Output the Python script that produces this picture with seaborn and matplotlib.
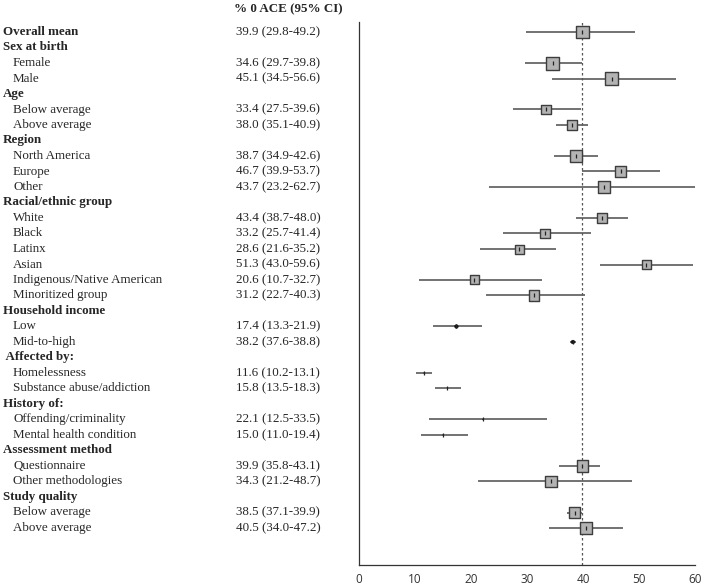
import matplotlib
matplotlib.use("Agg")
import matplotlib.pyplot as plt
import matplotlib.transforms as mtransforms
import seaborn as sns
import numpy as np
import pandas as pd

sns.set_style("white")
plt.rcParams['font.family'] = ['Liberation Serif', 'DejaVu Serif']

# ---- data ----
labels = ["Overall mean", "Sex at birth", "Female", "Male", "Age", "Below average",
          "Above average", "Region", "North America", "Europe", "Other",
          "Racial/ethnic group", "White", "Black", "Latinx", "Asian",
          "Indigenous/Native American", "Minoritized group", "Household income",
          "Low", "Mid-to-high", " Affected by:", "Homelessness",
          "Substance abuse/addiction", "History of:", "Offending/criminality",
          "Mental health condition", "Assessment method", "Questionnaire",
          "Other methodologies", "Study quality", "Below average", "Above average"]
is_header = [1, 1, 0, 0, 1, 0, 0, 1, 0, 0, 0, 1, 0, 0, 0, 0, 0, 0, 1, 0, 0, 1, 0, 0,
             1, 0, 0, 1, 0, 0, 1, 0, 0]
estimate = [39.9, None, 34.6, 45.1, None, 33.4, 38.0, None, 38.7, 46.7, 43.7,
            None, 43.4, 33.2, 28.6, 51.3, 20.6, 31.2, None, 17.4, 38.2, None,
            11.6, 15.8, None, 22.1, 15.0, None, 39.9, 34.3, None, 38.5, 40.5]
lower = [29.8, None, 29.7, 34.5, None, 27.5, 35.1, None, 34.9, 39.9, 23.2,
         None, 38.7, 25.7, 21.6, 43.0, 10.7, 22.7, None, 13.3, 37.6, None,
         10.2, 13.5, None, 12.5, 11.0, None, 35.8, 21.2, None, 37.1, 34.0]
upper = [49.2, None, 39.8, 56.6, None, 39.6, 40.9, None, 42.6, 53.7, 62.7,
         None, 48.0, 41.4, 35.2, 59.6, 32.7, 40.3, None, 21.9, 38.8, None,
         13.1, 18.3, None, 33.5, 19.4, None, 43.1, 48.7, None, 39.9, 47.2]
# relative study weight (box side)
weight = [12.3, None, 13, 12.3, None, 9.7, 9.7, None, 12, 11, 12,
          None, 9.7, 9.3, 9, 9, 9, 10.3, None, 3.5, 3.5, None,
          0.4, 0.4, None, 0.4, 0.4, None, 11.3, 11.7, None, 11.7, 11.7]
overall = 39.9
xticks = [0, 10, 20, 30, 40, 50, 60]
header_text = "% 0 ACE (95% CI)"

# ---- figure ----
W, H = 709, 586
fig = plt.figure(figsize=(W / 100, H / 100), dpi=100)
ax_l, ax_r, ax_t, ax_b = 359, 695, 22, 565
ax = fig.add_axes([ax_l / W, (H - ax_b) / H, (ax_r - ax_l) / W, (ax_b - ax_t) / H])

rows = np.arange(1, len(labels) + 1)
row_px0, spacing = 32, 15.5
ymin = 1 - (row_px0 - ax_t) / spacing
ymax = 1 + (ax_b - row_px0) / spacing
ax.set_ylim(ymax, ymin)
ax.set_xlim(0, 60)

df = pd.DataFrame({"row": rows, "label": labels, "est": estimate,
                   "lo": lower, "hi": upper, "w": weight})
d = df.dropna(subset=["est"]).copy()
d["s"] = (d["w"].astype(float) * 0.72) ** 2
big = d[d["w"] >= 5]
small = d[d["w"] < 5]

ax.axvline(overall, color="#555555", lw=0.9, ls=(0, (2, 2)), zorder=1)
ax.hlines(d["row"], d["lo"], d["hi"], color="#5a5a5a", lw=1.2, zorder=2)
sns.scatterplot(data=big, x="est", y="row", marker="s", s=big["s"].values,
                color="#b3b3b3", edgecolor="#3d3d3d", linewidth=1.0,
                ax=ax, zorder=3, legend=False)
sns.scatterplot(data=small, x="est", y="row", marker="o", s=small["s"].values,
                color="#111111", edgecolor="#111111", linewidth=0.5,
                ax=ax, zorder=3, legend=False)
ax.scatter(d["est"], d["row"], marker="|", s=12, color="#222222",
           linewidths=0.9, zorder=4)

sns.despine(ax=ax, top=True, right=True)
ax.spines["left"].set_color("#333333")
ax.spines["bottom"].set_color("#333333")
ax.spines["left"].set_linewidth(0.9)
ax.spines["bottom"].set_linewidth(0.9)
ax.set_yticks([])
ax.set_xticks(xticks)
ax.set_xticklabels([str(t) for t in xticks], fontfamily="Open Sans", fontsize=8.5,
                   color="#333333")
ax.tick_params(axis="x", direction="out", length=4, width=0.9, color="#333333", pad=2)
ax.set_xlabel("")
ax.set_ylabel("")

# ---- text columns ----
trans = mtransforms.blended_transform_factory(fig.transFigure, ax.transData)
fs = 9.4
for r, lab, hdr, e, lo, hi in zip(rows, labels, is_header, estimate, lower, upper):
    if hdr:
        ax.text(3 / W, r, lab, transform=trans, fontsize=fs, fontweight="bold",
                va="center", ha="left", clip_on=False)
    else:
        ax.text(13 / W, r, lab, transform=trans, fontsize=fs,
                va="center", ha="left", clip_on=False)
    if e is not None:
        ax.text(236 / W, r, f"{e:.1f} ({lo:.1f}-{hi:.1f})", transform=trans,
                fontsize=fs, va="center", ha="left", clip_on=False)
fig.text(234 / W, 1 - 9 / H, header_text, fontsize=fs, fontweight="bold",
         va="center", ha="left")

fig.savefig("out.png", dpi=100, facecolor="white")
